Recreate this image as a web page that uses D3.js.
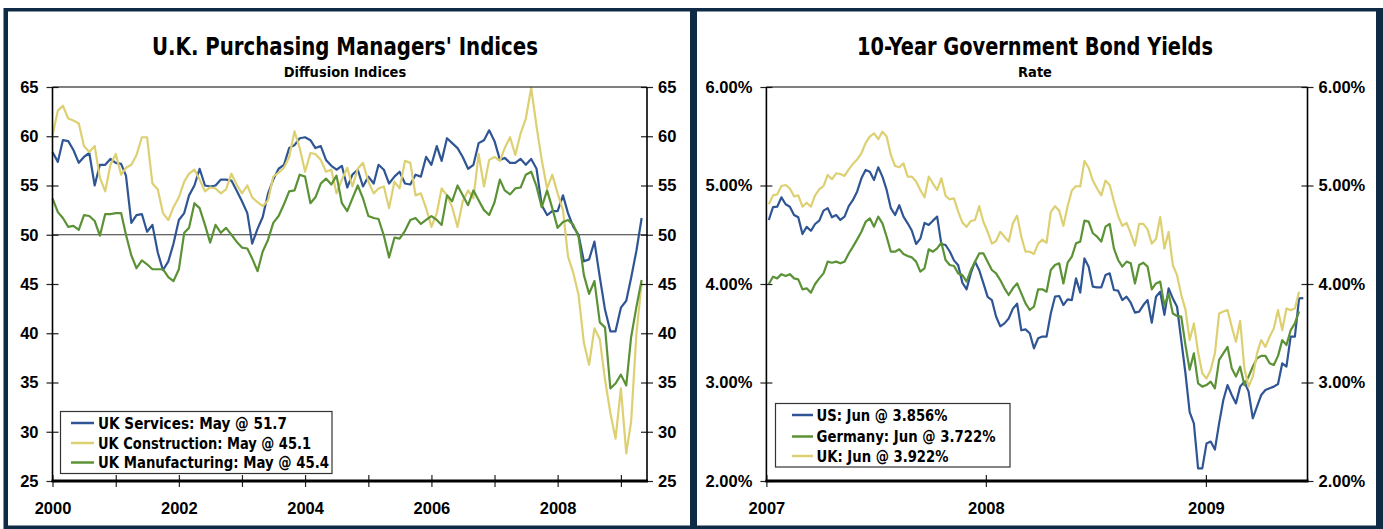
<!DOCTYPE html>
<meta charset="utf-8">
<script src="https://d3js.org/d3.v7.min.js"></script>
<style>
  body { margin: 0; background: #fff; }
  text { font-family: "Liberation Sans", Arial, sans-serif; }
  .narrow { font-family: "Liberation Sans Narrow", "Arial Narrow", "DejaVu Sans Condensed", sans-serif; }
</style>
<body>
<div id="viz"></div>
<script>
// ---- left panel: UK PMIs, monthly Jan 2000 .. May 2009
const pmiStart = new Date(2000, 0, 1);
const ukServices = [
  58.4, 57.4, 59.6, 59.5, 58.6, 57.3, 57.9, 58.3, 55.0, 57.1,
  57.1, 57.7, 57.3, 57.2, 56.0, 51.2, 52.0, 52.1, 50.3, 51.0,
  48.2, 46.4, 47.3, 49.1, 51.5, 52.2, 54.0, 55.0, 56.7, 55.0,
  54.9, 55.0, 55.6, 55.6, 55.5, 54.5, 53.4, 52.2, 49.1, 50.6,
  51.8, 54.2, 55.6, 56.7, 57.1, 58.8, 59.1, 59.8, 59.9, 59.6,
  58.8, 59.0, 57.6, 57.0, 56.6, 57.0, 54.8, 56.1, 56.6, 54.9,
  55.9, 55.2, 57.1, 56.6, 55.2, 55.9, 56.4, 55.2, 55.1, 56.1,
  55.9, 57.9, 57.1, 59.0, 57.5, 59.8, 59.3, 58.8, 57.9, 56.7,
  57.1, 59.3, 59.6, 60.6, 59.5, 57.6, 57.8, 57.3, 57.3, 57.7,
  57.1, 57.7, 56.7, 53.0, 52.0, 52.4, 52.4, 54.0, 52.2, 50.8,
  50.0, 47.3, 47.5, 49.3, 45.7, 42.4, 40.2, 40.2, 42.6, 43.3,
  45.6, 48.4, 51.7
];
const ukConstruction = [
  60.1, 62.6, 63.1, 61.8, 61.6, 61.3, 59.0, 58.4, 59.0, 55.8,
  54.4, 57.1, 58.2, 56.1, 56.8, 57.1, 58.1, 59.9, 59.9, 55.2,
  54.6, 52.2, 51.5, 52.8, 53.8, 55.4, 56.2, 56.6, 55.6, 54.4,
  54.8, 54.7, 54.2, 54.6, 56.2, 55.1, 54.2, 55.0, 53.8, 53.3,
  52.9, 53.5, 55.9, 56.3, 56.8, 57.9, 60.5, 58.8, 56.4, 58.3,
  58.2, 57.6, 56.4, 56.6, 54.2, 55.6, 56.8, 54.9, 56.7, 57.3,
  55.4, 54.2, 54.7, 54.9, 52.7, 55.4, 54.7, 57.5, 57.3, 54.0,
  54.2, 52.7, 50.8, 52.2, 54.7, 54.0, 52.8, 50.8, 53.4, 54.5,
  53.7, 58.2, 54.9, 57.6, 57.9, 57.5, 58.8, 59.9, 58.1, 60.3,
  61.8, 64.9, 61.0, 57.6, 54.7, 56.1, 54.2, 52.5, 47.8, 46.1,
  43.9, 39.0, 36.8, 40.5, 39.4, 35.3, 31.9, 29.3, 34.4, 27.8,
  31.0, 40.0, 45.1
];
const ukManufacturing = [
  53.7, 52.3, 51.7, 50.8, 50.9, 50.5, 52.0, 51.9, 51.4, 49.9,
  52.1, 52.1, 52.2, 52.2, 50.0, 47.9, 46.6, 47.4, 47.0, 46.5,
  46.5, 46.5, 45.7, 45.3, 46.5, 50.2, 50.7, 53.2, 52.7, 51.0,
  49.2, 51.0, 50.2, 50.7, 50.0, 49.3, 48.7, 48.6, 47.6, 46.3,
  48.3, 49.5, 51.2, 51.9, 53.1, 54.4, 54.5, 56.1, 55.9, 53.2,
  53.8, 55.2, 55.7, 55.1, 56.0, 53.2, 52.4, 53.7, 55.0, 53.7,
  51.9, 51.7, 51.6, 49.9, 47.7, 49.7, 49.6, 50.4, 51.5, 51.7,
  51.1, 51.5, 51.9, 51.5, 51.0, 54.0, 53.4, 55.0, 54.0, 53.0,
  54.5, 53.5, 52.5, 52.0, 53.3, 55.6, 54.5, 54.1, 54.7, 54.8,
  56.1, 56.4, 54.9, 52.8, 54.5, 52.7, 50.7, 51.3, 51.5, 51.0,
  49.8, 45.9, 44.0, 45.3, 41.1, 40.6, 34.4, 34.9, 35.8, 34.7,
  39.6, 42.7, 45.4
];
const pmiTicks = [25, 30, 35, 40, 45, 50, 55, 60, 65];
const pmiLabels = ["UK Services: May @ 51.7", "UK Construction: May @ 45.1", "UK Manufacturing: May @ 45.4"];

// ---- right panel: 10y yields, weekly from 5 Jan 2007
const bondStart = new Date(2007, 0, 5);
const usYield = [
  4.65, 4.78, 4.785, 4.88, 4.81, 4.785, 4.70, 4.677, 4.507, 4.58,
  4.54, 4.609, 4.643, 4.745, 4.77, 4.677, 4.70, 4.65, 4.684, 4.79,
  4.853, 4.94, 5.073, 5.158, 5.14, 5.056, 5.185, 5.09, 4.955, 4.77,
  4.70, 4.80, 4.684, 4.616, 4.54, 4.406, 4.46, 4.62, 4.60, 4.643,
  4.684, 4.406, 4.396, 4.33, 4.24, 4.19, 4.013, 3.946, 4.11, 4.227,
  4.14, 4.006, 3.87, 3.837, 3.67, 3.57, 3.60, 3.65, 3.75, 3.80,
  3.53, 3.539, 3.50, 3.347, 3.449, 3.466, 3.466, 3.70, 3.871, 3.878,
  3.786, 3.844, 3.837, 4.057, 3.912, 4.26, 4.176, 3.973, 3.966, 3.966,
  4.091, 4.108, 3.939, 3.932, 3.837, 3.871, 3.81, 3.709, 3.72, 3.786,
  3.837, 3.607, 3.871, 3.922, 3.686, 3.956, 3.854, 3.769, 3.43, 3.094,
  2.70, 2.585, 2.128, 2.128, 2.38, 2.40, 2.32, 2.585, 2.822, 2.974,
  2.873, 2.788, 2.958, 3.009, 2.907, 2.637, 2.755, 2.873, 2.924, 2.941,
  2.958, 2.985, 3.195, 3.161, 3.466, 3.466, 3.854, 3.856
];
const germanyYield = [
  4.0, 4.074, 4.057, 4.10, 4.08, 4.10, 4.057, 4.047, 3.946, 3.956,
  3.912, 4.0, 4.057, 4.108, 4.227, 4.216, 4.227, 4.21, 4.227, 4.31,
  4.379, 4.453, 4.53, 4.63, 4.667, 4.582, 4.684, 4.616, 4.48, 4.328,
  4.328, 4.352, 4.305, 4.284, 4.27, 4.227, 4.125, 4.159, 4.352, 4.328,
  4.362, 4.42, 4.244, 4.193, 4.183, 4.108, 4.09, 4.024, 4.142, 4.227,
  4.31, 4.31, 4.227, 4.142, 4.108, 4.04, 3.956, 3.888, 3.956, 4.006,
  3.905, 3.804, 3.736, 3.77, 3.946, 3.946, 3.922, 4.142, 4.193, 4.21,
  4.006, 4.216, 4.277, 4.413, 4.43, 4.643, 4.633, 4.515, 4.48, 4.43,
  4.582, 4.609, 4.362, 4.244, 4.176, 4.227, 4.21, 4.006, 4.193, 4.216,
  4.176, 3.946, 4.006, 4.024, 3.78, 3.90, 3.70, 3.675, 3.668, 3.38,
  3.13, 3.296, 2.991, 2.958, 2.974, 3.009, 2.941, 3.229, 3.296, 3.362,
  3.144, 3.06, 3.161, 2.974, 3.06, 3.161, 3.246, 3.27, 3.27, 3.195,
  3.178, 3.27, 3.43, 3.38, 3.53, 3.60, 3.722
];
const ukYield = [
  4.81, 4.90, 4.91, 4.995, 5.005, 4.97, 4.89, 4.90, 4.785, 4.825,
  4.785, 4.90, 4.96, 4.995, 5.107, 5.063, 5.124, 5.117, 5.097, 5.164,
  5.22, 5.265, 5.327, 5.43, 5.497, 5.53, 5.47, 5.547, 5.497, 5.31,
  5.198, 5.185, 5.225, 5.09, 5.09, 5.04, 4.955, 4.88, 5.09, 5.02,
  4.955, 5.073, 4.895, 4.86, 4.87, 4.735, 4.623, 4.58, 4.64, 4.65,
  4.79, 4.63, 4.53, 4.41, 4.436, 4.53, 4.48, 4.43, 4.616, 4.694,
  4.48, 4.328, 4.328, 4.305, 4.41, 4.45, 4.417, 4.73, 4.79, 4.745,
  4.59, 4.79, 4.95, 4.995, 4.99, 5.25, 5.18, 5.05, 4.97, 4.90,
  5.05, 5.005, 4.84, 4.69, 4.59, 4.62, 4.515, 4.39, 4.61, 4.61,
  4.555, 4.41, 4.457, 4.68, 4.36, 4.53, 4.19, 4.09, 3.89, 3.74,
  3.43, 3.60, 3.31, 3.094, 3.04, 3.127, 3.296, 3.70, 3.72, 3.735,
  3.565, 3.413, 3.627, 3.144, 2.958, 3.06, 3.296, 3.43, 3.362, 3.464,
  3.548, 3.735, 3.531, 3.752, 3.735, 3.752, 3.922
];
const yieldTicks = [2, 3, 4, 5, 6];
const yieldLabels = ["US: Jun @ 3.856%", "Germany: Jun @ 3.722%", "UK: Jun @ 3.922%"];

const blue = "#2f5594", gold = "#ddd073", green = "#5b9236", navy = "#0f2a45";

const W = 1383, H = 529;
const svg = d3.select("#viz").append("svg")
    .attr("width", W).attr("height", H);

// navy frame with two white panels
svg.append("rect").attr("x", 3.5).attr("y", 8).attr("width", W - 3.5).attr("height", H - 8).attr("fill", navy);
svg.append("rect").attr("x", 8).attr("y", 11.5).attr("width", 682).attr("height", 514).attr("fill", "#fff");
svg.append("rect").attr("x", 697).attr("y", 11.5).attr("width", 679).attr("height", 514).attr("fill", "#fff");

function panel(cfg) {
  const top = 87, bottom = 481;
  const x = d3.scaleTime().domain(cfg.xDomain).range([cfg.left, cfg.right]);
  const y = d3.scaleLinear().domain(cfg.yDomain).range([bottom, top]);
  const g = svg.append("g");

  // titles
  g.append("text").attr("class", "narrow")
    .attr("x", cfg.titleX).attr("y", 55).attr("text-anchor", "middle")
    .attr("font-size", 25).attr("font-weight", "bold")
    .attr("textLength", cfg.titleW).attr("lengthAdjust", "spacingAndGlyphs")
    .text(cfg.title);
  g.append("text").attr("class", "narrow")
    .attr("x", cfg.titleX).attr("y", 77).attr("text-anchor", "middle")
    .attr("font-size", 14.5).attr("font-weight", "bold")
    .text(cfg.subtitle);

  if (cfg.refLine != null) {
    g.append("line")
      .attr("x1", cfg.left).attr("x2", cfg.right)
      .attr("y1", y(cfg.refLine)).attr("y2", y(cfg.refLine))
      .attr("stroke", "#333").attr("stroke-width", 1.2);
  }

  // series
  cfg.series.forEach(s => {
    const pts = s.values.map((v, i) => [cfg.date(i), v]);
    g.append("path")
      .attr("d", d3.line().x(d => x(d[0])).y(d => y(d[1]))(pts))
      .attr("fill", "none").attr("stroke", s.color).attr("stroke-width", 2.2)
      .attr("stroke-linejoin", "round");
  });

  // axes
  const fs = 16.5;
  const ax = g.append("g").attr("transform", `translate(${cfg.left},0)`)
    .call(d3.axisLeft(y).tickValues(cfg.yTicks).tickFormat(cfg.yFmt).tickSize(6).tickPadding(8));
  ax.selectAll(".tick line").attr("x1", 6);
  const ax2 = g.append("g").attr("transform", `translate(${cfg.right},0)`)
    .call(d3.axisRight(y).tickValues(cfg.yTicks).tickFormat(cfg.yFmt).tickSize(6).tickPadding(5));
  ax2.selectAll(".tick line").attr("x1", -6);
  const bx = g.append("g").attr("transform", `translate(0,${bottom})`)
    .call(d3.axisBottom(x).tickValues(cfg.xTicks).tickFormat(cfg.xFmt).tickSize(6));
  bx.selectAll(".tick line").attr("y1", -6);
  bx.selectAll(".tick text").attr("y", 33).attr("dy", null);

  [ax, ax2, bx].forEach(a => {
    a.select(".domain").remove();
    a.selectAll(".tick line").attr("stroke", "#222").attr("stroke-width", 1.2);
    a.selectAll(".tick text").attr("font-size", fs).attr("font-weight", "bold")
      .attr("font-family", "'Liberation Sans', Arial, sans-serif").attr("fill", "#000");
  });

  // frame lines
  g.append("line").attr("x1", cfg.left).attr("x2", cfg.right).attr("y1", top).attr("y2", top)
    .attr("stroke", "#000").attr("stroke-width", 1.2);
  g.append("line").attr("x1", cfg.left).attr("x2", cfg.left).attr("y1", top).attr("y2", bottom)
    .attr("stroke", "#000").attr("stroke-width", 1.6);
  g.append("line").attr("x1", cfg.right).attr("x2", cfg.right).attr("y1", top).attr("y2", bottom)
    .attr("stroke", "#000").attr("stroke-width", 1.6);
  g.append("line").attr("x1", cfg.left - 1).attr("x2", cfg.right + 1).attr("y1", bottom).attr("y2", bottom)
    .attr("stroke", "#000").attr("stroke-width", 3);

  // legend
  const L = cfg.legend;
  const lg = g.append("g");
  lg.append("rect").attr("x", L.x).attr("y", L.y).attr("width", L.w).attr("height", L.h)
    .attr("fill", "#fff").attr("stroke", "#333").attr("stroke-width", 1.2);
  cfg.series.forEach((s, i) => {
    const yy = L.rows[i];
    lg.append("line").attr("x1", L.lx0).attr("x2", L.lx1).attr("y1", yy).attr("y2", yy)
      .attr("stroke", s.color).attr("stroke-width", 2.5);
    lg.append("text").attr("class", "narrow")
      .attr("x", L.tx).attr("y", yy).attr("dy", "0.36em")
      .attr("font-size", 15.5).attr("font-weight", "bold")
      .attr("textLength", L.widths[i]).attr("lengthAdjust", "spacingAndGlyphs")
      .text(s.label);
  });
}

panel({
  left: 52.5, right: 647,
  xDomain: [new Date(2000, 0, 1), new Date(2009, 5, 1)],
  yDomain: [25, 65],
  yTicks: pmiTicks, yFmt: d3.format("d"),
  xTicks: d3.range(2000, 2010).map(yr => new Date(yr, 0, 1)),
  xFmt: d => d.getFullYear() % 2 === 0 ? d.getFullYear() : "",
  date: i => d3.timeMonth.offset(pmiStart, i),
  refLine: 50,
  title: "U.K. Purchasing Managers' Indices", titleX: 345, titleW: 386,
  subtitle: "Diffusion Indices",
  series: [
    { values: ukServices, color: blue, label: pmiLabels[0] },
    { values: ukConstruction, color: gold, label: pmiLabels[1] },
    { values: ukManufacturing, color: green, label: pmiLabels[2] }
  ],
  legend: { x: 60.5, y: 411.5, w: 271.5, h: 62, rows: [423, 443, 462.5], lx0: 71, lx1: 94, tx: 98,
            widths: [189, 213, 231] }
});

panel({
  left: 766.4, right: 1307.5,
  xDomain: [new Date(2007, 0, 1), new Date(2009, 5, 19)],
  yDomain: [2, 6],
  yTicks: yieldTicks, yFmt: d => d3.format(".2f")(d) + "%",
  xTicks: [2007, 2008, 2009].map(yr => new Date(yr, 0, 1)),
  xFmt: d => d.getFullYear(),
  date: i => d3.timeDay.offset(bondStart, 7 * i),
  refLine: null,
  title: "10-Year Government Bond Yields", titleX: 1035, titleW: 356,
  subtitle: "Rate",
  series: [
    { values: usYield, color: blue, label: yieldLabels[0] },
    { values: germanyYield, color: green, label: yieldLabels[1] },
    { values: ukYield, color: gold, label: yieldLabels[2] }
  ],
  legend: { x: 775.5, y: 403.5, w: 234.5, h: 63.5, rows: [415, 436.5, 456], lx0: 792, lx1: 813, tx: 816.5,
            widths: [131, 179, 132] }
});
</script>
</body>
